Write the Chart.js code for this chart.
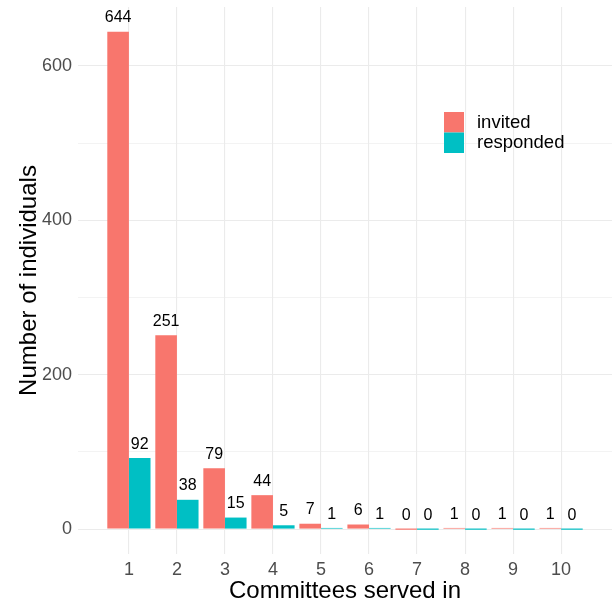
<!DOCTYPE html>
<html>
<head>
<meta charset="utf-8">
<script src="https://cdn.jsdelivr.net/npm/chart.js@4"></script>
<style>
  body { margin: 0; background: #fff; }
  #wrap { width: 612px; height: 605px; }
</style>
</head>
<body>
<div id="wrap"><canvas id="barChart"></canvas></div>
<script>
// datos
const committees = [1, 2, 3, 4, 5, 6, 7, 8, 9, 10];
const invited = [644, 251, 79, 44, 7, 6, 0, 1, 1, 1];
const responded = [92, 38, 15, 5, 1, 1, 0, 0, 0, 0];
const yTicks = [0, 100, 200, 300, 400, 500, 600];
const seriesNames = ['invited', 'responded'];
const seriesColors = ['#F8766D', '#00BFC4'];

const FONT = 'Liberation Sans, Arial, Helvetica, sans-serif';

// etiquetas encima de cada barra
const barLabels = {
  id: 'barLabels',
  afterDatasetsDraw(chart) {
    const ctx = chart.ctx;
    const y = chart.scales.y;
    ctx.save();
    ctx.font = '16px ' + FONT;
    ctx.fillStyle = '#000';
    ctx.textAlign = 'center';
    ctx.textBaseline = 'alphabetic';
    chart.data.datasets.forEach((ds, i) => {
      chart.getDatasetMeta(i).data.forEach((bar, j) => {
        const v = ds.data[j].y;
        ctx.fillText(String(v), bar.x, y.getPixelForValue(v) - 9.5);
      });
    });
    ctx.restore();
  }
};

// leyenda dentro del panel
const insideLegend = {
  id: 'insideLegend',
  afterDraw(chart) {
    const ctx = chart.ctx;
    ctx.save();
    ctx.font = '18.5px ' + FONT;
    ctx.textBaseline = 'middle';
    ctx.textAlign = 'left';
    seriesNames.forEach((name, i) => {
      const top = 112 + i * 20.5;
      ctx.fillStyle = seriesColors[i];
      ctx.fillRect(444, top, 20, 20.5);
      ctx.fillStyle = '#000';
      ctx.fillText(name, 477, top + 10.5);
    });
    ctx.restore();
  }
};

const ctx = document.getElementById('barChart').getContext('2d');
const barChart = new Chart(ctx, {
  type: 'bar',
  data: {
    datasets: [
      {
        label: seriesNames[0],
        data: committees.map((c, i) => ({ x: c, y: invited[i] })),
        backgroundColor: seriesColors[0]
      },
      {
        label: seriesNames[1],
        data: committees.map((c, i) => ({ x: c, y: responded[i] })),
        backgroundColor: seriesColors[1]
      }
    ]
  },
  options: {
    responsive: true,
    maintainAspectRatio: false,
    animation: false,
    layout: { padding: { top: 7, right: 0, left: 0, bottom: 0 } },
    datasets: {
      bar: { categoryPercentage: 0.9, barPercentage: 1.0, minBarLength: 1.2 }
    },
    scales: {
      x: {
        type: 'linear',
        offset: false,
        min: -0.06,
        max: 11.06,
        afterBuildTicks: s => { s.ticks = committees.map(v => ({ value: v })); },
        afterFit: s => { s.height = 51; s.paddingLeft = 0; s.paddingRight = 0; },
        grid: { color: '#EBEBEB', lineWidth: 1.1, drawTicks: false, offset: false },
        border: { display: false },
        ticks: {
          padding: 5,
          color: '#4D4D4D',
          font: { family: FONT, size: 18 },
          maxRotation: 0,
          autoSkip: false
        },
        title: {
          display: true,
          text: 'Committees served in',
          color: '#000',
          font: { family: FONT, size: 24, lineHeight: 1 },
          padding: { top: 0, bottom: 2 }
        }
      },
      y: {
        min: -32.2,
        max: 676.2,
        afterBuildTicks: s => { s.ticks = yTicks.map(v => ({ value: v })); },
        afterFit: s => { s.width = 78; s.paddingTop = 0; s.paddingBottom = 0; },
        grid: {
          color: '#EBEBEB',
          lineWidth: c => (c.tick && c.tick.value % 200 === 0 ? 1.1 : 0.6),
          drawTicks: false
        },
        border: { display: false },
        ticks: {
          padding: 6,
          color: '#4D4D4D',
          font: { family: FONT, size: 18 },
          callback: v => (v % 200 === 0 ? String(v) : '')
        },
        title: {
          display: true,
          text: 'Number of individuals',
          color: '#000',
          font: { family: FONT, size: 24, lineHeight: 1 },
          padding: { top: 17, bottom: 0 }
        }
      }
    },
    plugins: {
      legend: { display: false },
      tooltip: { enabled: false }
    }
  },
  plugins: [barLabels, insideLegend]
});
</script>
</body>
</html>
